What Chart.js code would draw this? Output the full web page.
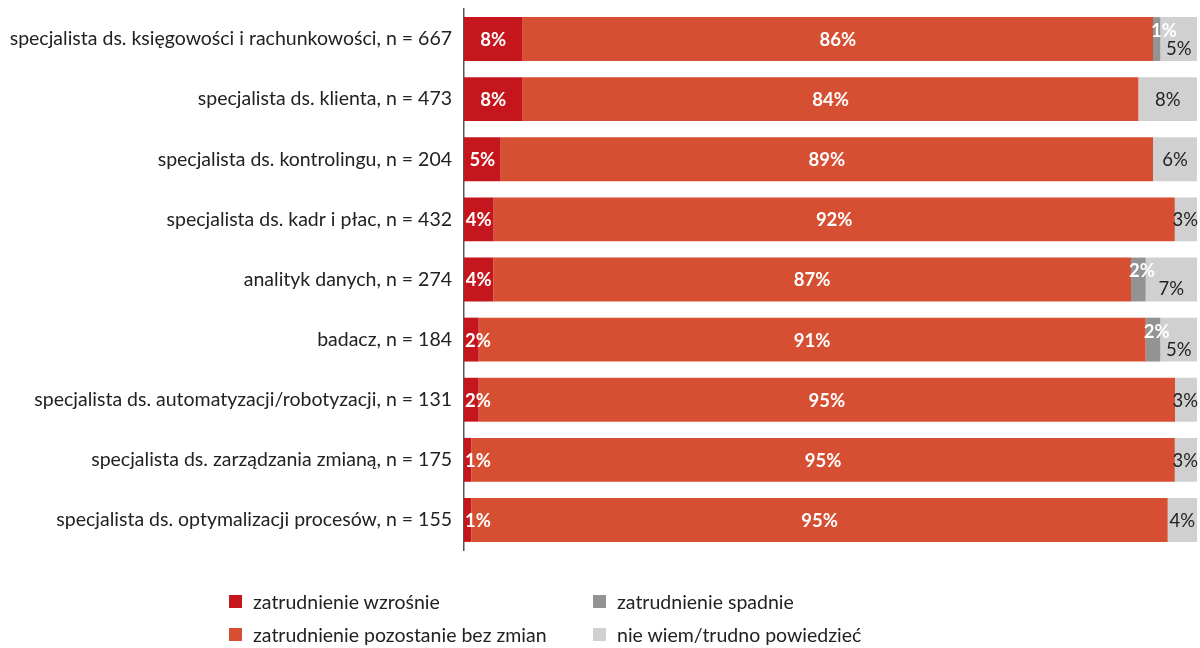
<!DOCTYPE html>
<html lang="pl">
<head>
<meta charset="utf-8">
<script src="https://cdn.jsdelivr.net/npm/chart.js@4/dist/chart.umd.min.js"></script>
<style>
  html, body { margin: 0; padding: 0; background: #fff; }
  .wrap { position: relative; width: 1200px; height: 648px; }
  #legend {
    position: absolute; left: 229px; top: 589px;
    display: grid; grid-template-columns: 364px 300px; row-gap: 9px;
    font-family: Lato, sans-serif; font-size: 19.5px; color: #222;
  }
  #legend .item { display: flex; align-items: center; height: 24px; }
  #legend .box { width: 13px; height: 13px; margin-right: 11px; }
</style>
</head>
<body>
<div class="wrap">
  <canvas id="chart" width="1200" height="648"></canvas>
  <div id="legend"></div>
</div>
<script>
const categories = [
  'specjalista ds. księgowości i rachunkowości, n = 667',
  'specjalista ds. klienta, n = 473',
  'specjalista ds. kontrolingu, n = 204',
  'specjalista ds. kadr i płac, n = 432',
  'analityk danych, n = 274',
  'badacz, n = 184',
  'specjalista ds. automatyzacji/robotyzacji, n = 131',
  'specjalista ds. zarządzania zmianą, n = 175',
  'specjalista ds. optymalizacji procesów, n = 155'
];

const seriesNames = [
  'zatrudnienie wzrośnie',
  'zatrudnienie pozostanie bez zmian',
  'zatrudnienie spadnie',
  'nie wiem/trudno powiedzieć'
];

const wzrosnie   = [8, 8, 5, 4, 4, 2, 2, 1, 1];
const bezZmian   = [86, 84, 89, 92, 87, 91, 95, 95, 95];
const spadnie    = [1, 0, 0, 0, 2, 2, 0, 0, 0];
const nieWiem    = [5, 8, 6, 3, 7, 5, 3, 3, 4];

const colors = ['#C4161C', '#D64F32', '#939393', '#D0D0D0'];

const raw = [wzrosnie, bezZmian, spadnie, nieWiem];
// 100% stacked: each row is scaled to its own total
const rowSums = categories.map((_, i) => raw.reduce((s, arr) => s + arr[i], 0));

const FONT = 'Lato, sans-serif';

const datasets = raw.map((arr, k) => ({
  label: seriesNames[k],
  data: arr.map((v, i) => v / rowSums[i] * 100),
  rawValues: arr,
  backgroundColor: colors[k],
  borderWidth: 0,
  categoryPercentage: 1,
  barPercentage: 0.73
}));

const valueLabels = {
  id: 'valueLabels',
  afterDatasetsDraw(chart) {
    const ctx = chart.ctx;
    const area = chart.chartArea;
    ctx.save();
    ctx.textBaseline = 'middle';
    ctx.textAlign = 'center';
    chart.data.datasets.forEach((ds, k) => {
      const meta = chart.getDatasetMeta(k);
      meta.data.forEach((bar, i) => {
        const v = ds.rawValues[i];
        if (!v) return;
        const text = v + '%';
        const start = Math.min(bar.base, bar.x);
        const end = Math.max(bar.base, bar.x);
        let x = (start + end) / 2;
        let y = bar.y;
        if (k === 3) {
          ctx.font = '18.5px ' + FONT;
          ctx.fillStyle = '#222';
        } else {
          ctx.font = 'bold 18.5px ' + FONT;
          ctx.fillStyle = '#fff';
        }
        const w = ctx.measureText(text).width;
        if (k === 0) x = Math.max(x, start + w / 2 + 1);
        if (k === 2) {
          // thin segment: label sits above, pushed off the left edge
          x = Math.max(x, start + w / 2 - 2);
          y -= 9;
        }
        if (k === 3) {
          if (spadnie[i]) y += 9;
          x = Math.min(x, area.right + 1 - w / 2);
        }
        ctx.fillText(text, x, y + 1);
      });
    });
    ctx.restore();
  }
};

const chart = new Chart(document.getElementById('chart'), {
  type: 'bar',
  data: { labels: categories, datasets: datasets },
  options: {
    indexAxis: 'y',
    responsive: false,
    animation: false,
    layout: { padding: { top: 9, bottom: 98, right: 3, left: 0 } },
    scales: {
      x: { stacked: true, min: 0, max: 100, display: false },
      y: {
        stacked: true,
        grid: { display: false, drawTicks: false },
        border: { display: true, color: '#555', width: 1.5 },
        ticks: {
          padding: 12,
          color: '#222',
          font: { family: FONT, size: 19.5 }
        },
        afterFit(scale) {
          scale.width = 464;
          scale.paddingTop = 0;
          scale.paddingBottom = 0;
        }
      }
    },
    plugins: {
      legend: { display: false },
      tooltip: { enabled: false }
    }
  },
  plugins: [valueLabels]
});

// legend laid out column by column
const legendEl = document.getElementById('legend');
[0, 2, 1, 3].forEach(k => {
  const item = document.createElement('div');
  item.className = 'item';
  item.innerHTML = '<span class="box" style="background:' + colors[k] + '"></span>' + seriesNames[k];
  legendEl.appendChild(item);
});
</script>
</body>
</html>
